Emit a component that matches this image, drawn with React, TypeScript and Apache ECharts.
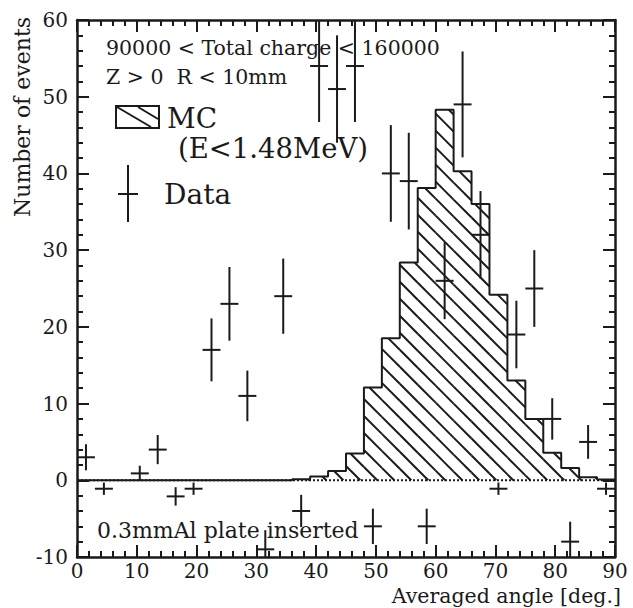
import React, { useEffect, useRef } from 'react';
import * as echarts from 'echarts';

// ---- data (bins of 3 degrees) ----
const binCenters = [
  1.5, 4.5, 7.5, 10.5, 13.5, 16.5, 19.5, 22.5, 25.5, 28.5,
  31.5, 34.5, 37.5, 40.5, 43.5, 46.5, 49.5, 52.5, 55.5, 58.5,
  61.5, 64.5, 67.5, 70.5, 73.5, 76.5, 79.5, 82.5, 85.5, 88.5,
];
const mcCounts = [
  0, 0, 0, 0, 0, 0, 0, 0, 0, 0,
  0, 0, 0.15, 0.5, 1.2, 3.5, 12.1, 18.5, 28.4, 38.1,
  48.3, 40.3, 36.0, 24.2, 13.0, 8.0, 3.6, 1.6, 0.4, 0.1,
];
const dataCounts: (number | null)[] = [
  3.0, -1.1, null, 0.9, 4.0, -2.1, -1.1, 17, 23, 11,
  -9, 24, -4.0, 54, 51, 54, -6.0, 40, 39, -6.0,
  26, 49, 32, -1.1, 19, 25, 8, -8, 5, -1.1,
];
const dataErrors = [
  1.7, 0.8, 0, 1.0, 1.9, 1.2, 0.8, 4.1, 4.8, 3.3,
  2.5, 4.9, 2.1, 7.3, 7.0, 7.3, 2.3, 6.3, 6.3, 2.3,
  5.0, 6.9, 5.7, 0.8, 4.4, 5.0, 2.7, 2.6, 2.2, 0.8,
];
const xTickInterval = 10;
const yTickInterval = 10;
const X_MIN = 0;
const X_MAX = 90;
const Y_MIN = -10;
const Y_MAX = 60;
const BIN_W = 3;

const FONT = '"DejaVu Serif", serif';
const INK = '#1a1a1a';

export default function App() {
  const ref = useRef<HTMLDivElement>(null);

  useEffect(() => {
    document.body.style.margin = '0';
    if (!ref.current) return;
    const chart = echarts.init(ref.current, null, { renderer: 'svg' });

    const mcData = binCenters.map((c, i) => [c, mcCounts[i]]);
    const stepData: number[][] = binCenters.map((c, i) => [c - BIN_W / 2, mcCounts[i]]);
    stepData.push([binCenters[binCenters.length - 1] + BIN_W / 2, mcCounts[mcCounts.length - 1]]);
    const crossData = binCenters
      .map((c, i) => [c, dataCounts[i], dataErrors[i]])
      .filter((d) => d[1] !== null);

    const hatchSpacing = 17;
    const hatchPhase = 1;

    const renderHatch = (_params: any, api: any) => {
      const xc = api.value(0);
      const h = api.value(1);
      if (!(h > 0)) return null;
      const tl = api.coord([xc - BIN_W / 2, h]);
      const br = api.coord([xc + BIN_W / 2, 0]);
      const L = tl[0], R = br[0], T = tl[1], B = br[1];
      const children: any[] = [];
      const cMin = T - R;
      const cMax = B - L;
      const k = Math.ceil((cMin - hatchPhase) / hatchSpacing);
      for (let c = k * hatchSpacing + hatchPhase; c <= cMax; c += hatchSpacing) {
        const xs = Math.max(L, T - c);
        const xe = Math.min(R, B - c);
        if (xe - xs > 0.3) {
          children.push({
            type: 'line',
            shape: { x1: xs, y1: xs + c, x2: xe, y2: xe + c },
            style: { stroke: INK, lineWidth: 2 },
          });
        }
      }
      return { type: 'group', children };
    };

    const renderCross = (_params: any, api: any) => {
      const x = api.value(0);
      const y = api.value(1);
      const e = api.value(2);
      const lo = Math.max(Y_MIN, y - e);
      const hi = Math.min(Y_MAX, y + e);
      const pTop = api.coord([x, hi]);
      const pBot = api.coord([x, lo]);
      const pl = api.coord([Math.max(X_MIN, x - BIN_W / 2), y]);
      const pr = api.coord([Math.min(X_MAX, x + BIN_W / 2), y]);
      return {
        type: 'group',
        children: [
          { type: 'line', shape: { x1: pTop[0], y1: pTop[1], x2: pBot[0], y2: pBot[1] }, style: { stroke: INK, lineWidth: 2 } },
          { type: 'line', shape: { x1: pl[0], y1: pl[1], x2: pr[0], y2: pr[1] }, style: { stroke: INK, lineWidth: 2 } },
        ],
      };
    };

    const axisCommon = {
      type: 'value',
      axisLine: { show: true, onZero: false, lineStyle: { color: INK, width: 2.5 } },
      axisTick: { show: true, inside: true, length: 12, lineStyle: { color: INK, width: 2 } },
      minorTick: { show: true, splitNumber: 5, length: 6, lineStyle: { color: INK, width: 2 } },
      splitLine: { show: false },
      minorSplitLine: { show: false },
    };

    const txt = (text: string, x: number, y: number, size: number, extra: any = {}) => ({
      type: 'text',
      x,
      y,
      z: 100,
      ...extra,
      style: {
        text,
        font: `${size}px ${FONT}`,
        fill: INK,
        textAlign: extra.align || 'left',
        align: extra.align || 'left',
        textVerticalAlign: 'middle',
        verticalAlign: 'middle',
      },
    });

    chart.setOption({
      animation: false,
      backgroundColor: '#ffffff',
      grid: { left: 77, right: 18, top: 20, bottom: 51, containLabel: false },
      xAxis: [
        {
          ...axisCommon,
          position: 'bottom',
          min: X_MIN,
          max: X_MAX,
          interval: xTickInterval,
          axisLabel: { show: true, margin: 4, color: INK, fontFamily: FONT, fontSize: 20 },
        },
        {
          ...axisCommon,
          position: 'top',
          min: X_MIN,
          max: X_MAX,
          interval: xTickInterval,
          axisLabel: { show: false },
        },
      ],
      yAxis: [
        {
          ...axisCommon,
          position: 'left',
          min: Y_MIN,
          max: Y_MAX,
          interval: yTickInterval,
          axisLabel: { show: true, margin: 9, color: INK, fontFamily: FONT, fontSize: 20 },
        },
        {
          ...axisCommon,
          position: 'right',
          min: Y_MIN,
          max: Y_MAX,
          interval: yTickInterval,
          axisLabel: { show: false },
        },
      ],
      series: [
        {
          type: 'line',
          name: 'zero',
          data: [[X_MIN, 0], [X_MAX, 0]],
          symbol: 'none',
          z: 1,
          lineStyle: { color: INK, width: 2, type: [2, 2] },
          silent: true,
        },
        {
          type: 'custom',
          name: 'MC hatch',
          data: mcData,
          renderItem: renderHatch,
          z: 2,
          silent: true,
        },
        {
          type: 'line',
          name: 'MC',
          data: stepData,
          step: 'end',
          symbol: 'none',
          z: 3,
          lineStyle: { color: INK, width: 2 },
          silent: true,
        },
        {
          type: 'custom',
          name: 'Data',
          data: crossData,
          renderItem: renderCross,
          z: 4,
          silent: true,
        },
      ],
      graphic: [
        txt('90000 < Total charge < 160000', 106, 48, 20.5),
        txt('Z > 0  R < 10mm', 106, 77, 20.5),
        {
          type: 'rect',
          z: 100,
          shape: { x: 116, y: 106, width: 43, height: 22 },
          style: { fill: '#fff', stroke: INK, lineWidth: 2 },
        },
        { type: 'line', z: 101, shape: { x1: 117, y1: 107, x2: 151, y2: 127 }, style: { stroke: INK, lineWidth: 2 } },
        { type: 'line', z: 101, shape: { x1: 138, y1: 107, x2: 158, y2: 119 }, style: { stroke: INK, lineWidth: 2 } },
        txt('MC', 167, 118, 28),
        txt('(E<1.48MeV)', 178, 148, 27.5),
        { type: 'line', z: 101, shape: { x1: 128, y1: 165, x2: 128, y2: 222 }, style: { stroke: INK, lineWidth: 2 } },
        { type: 'line', z: 101, shape: { x1: 118, y1: 194, x2: 138, y2: 194 }, style: { stroke: INK, lineWidth: 2 } },
        txt('Data', 164, 194, 28),
        txt('0.3mmAl plate inserted', 97, 530, 22),
        txt('Averaged angle [deg.]', 621, 596, 20.5, { align: 'right' }),
        txt('Number of events', 22, 117, 22, { align: 'center', rotation: Math.PI / 2 }),
      ],
    });

    return () => chart.dispose();
  }, []);

  return <div ref={ref} style={{ width: 633, height: 608 }} />;
}
